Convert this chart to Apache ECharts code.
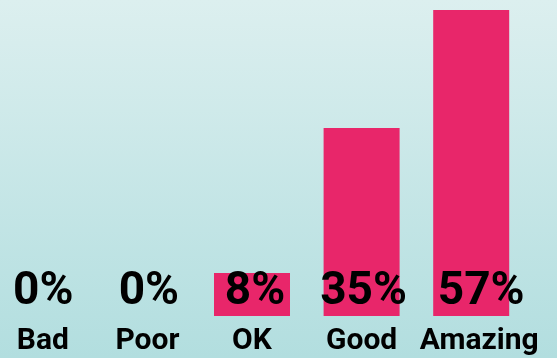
<!DOCTYPE html>
<html>
<head>
<meta charset="utf-8">
<script src="https://cdn.jsdelivr.net/npm/echarts@6/dist/echarts.min.js"></script>
<style>
  html, body { margin: 0; padding: 0; }
  #chart { width: 557px; height: 358px;
    background: linear-gradient(to bottom, #dcefef 0%, #b2dedf 100%); }
</style>
</head>
<body>
<div id="chart"></div>
<script>
// Rating categories and the share of responses for each
const categories = ['Bad', 'Poor', 'OK', 'Good', 'Amazing'];
const shares = [0, 0, 8, 35, 57];

const axisFont = { color: '#000', fontFamily: 'Roboto', fontWeight: 'bold', fontSize: 30 };
const valueFont = { color: '#000', fontFamily: 'Roboto', fontWeight: 'bold', fontSize: 46 };

// small per-position nudges (left padding moves a centred label right by half of it)
const axisNudge = [20, 10, 0, 0, 16];
const valueNudge = [21, 13, 6, 4, 20];
const axisRich = {};
axisNudge.forEach((p, i) => { axisRich['c' + i] = Object.assign({ padding: [0, 0, 0, p] }, axisFont); });
const valueRich = {};
valueNudge.forEach((p, i) => { valueRich['v' + i] = Object.assign({ padding: [0, 0, 0, p] }, valueFont); });

const chart = echarts.init(document.getElementById('chart'), null, { renderer: 'canvas' });

chart.setOption({
  backgroundColor: 'transparent',
  animation: false,
  grid: {
    left: -22, right: 31, top: 10, bottom: 42,
    containLabel: false,
    outerBoundsMode: 'none'
  },
  xAxis: {
    type: 'category',
    data: categories,
    axisLine: { show: false },
    axisTick: { show: false },
    axisLabel: Object.assign({
      margin: 10,
      interval: 0,
      formatter: (value, index) => '{c' + index + '|' + value + '}',
      rich: axisRich
    }, axisFont)
  },
  yAxis: {
    type: 'value',
    min: 0,
    max: 57,
    show: false,
    splitLine: { show: false }
  },
  series: [{
    type: 'bar',
    data: shares,
    barWidth: 76,
    itemStyle: { color: '#e8266a' },
    label: Object.assign({
      show: true,
      position: 'insideBottom',
      distance: 1,
      formatter: (p) => '{v' + p.dataIndex + '|' + p.value + '%}',
      rich: valueRich
    }, valueFont)
  }]
});
</script>
</body>
</html>
